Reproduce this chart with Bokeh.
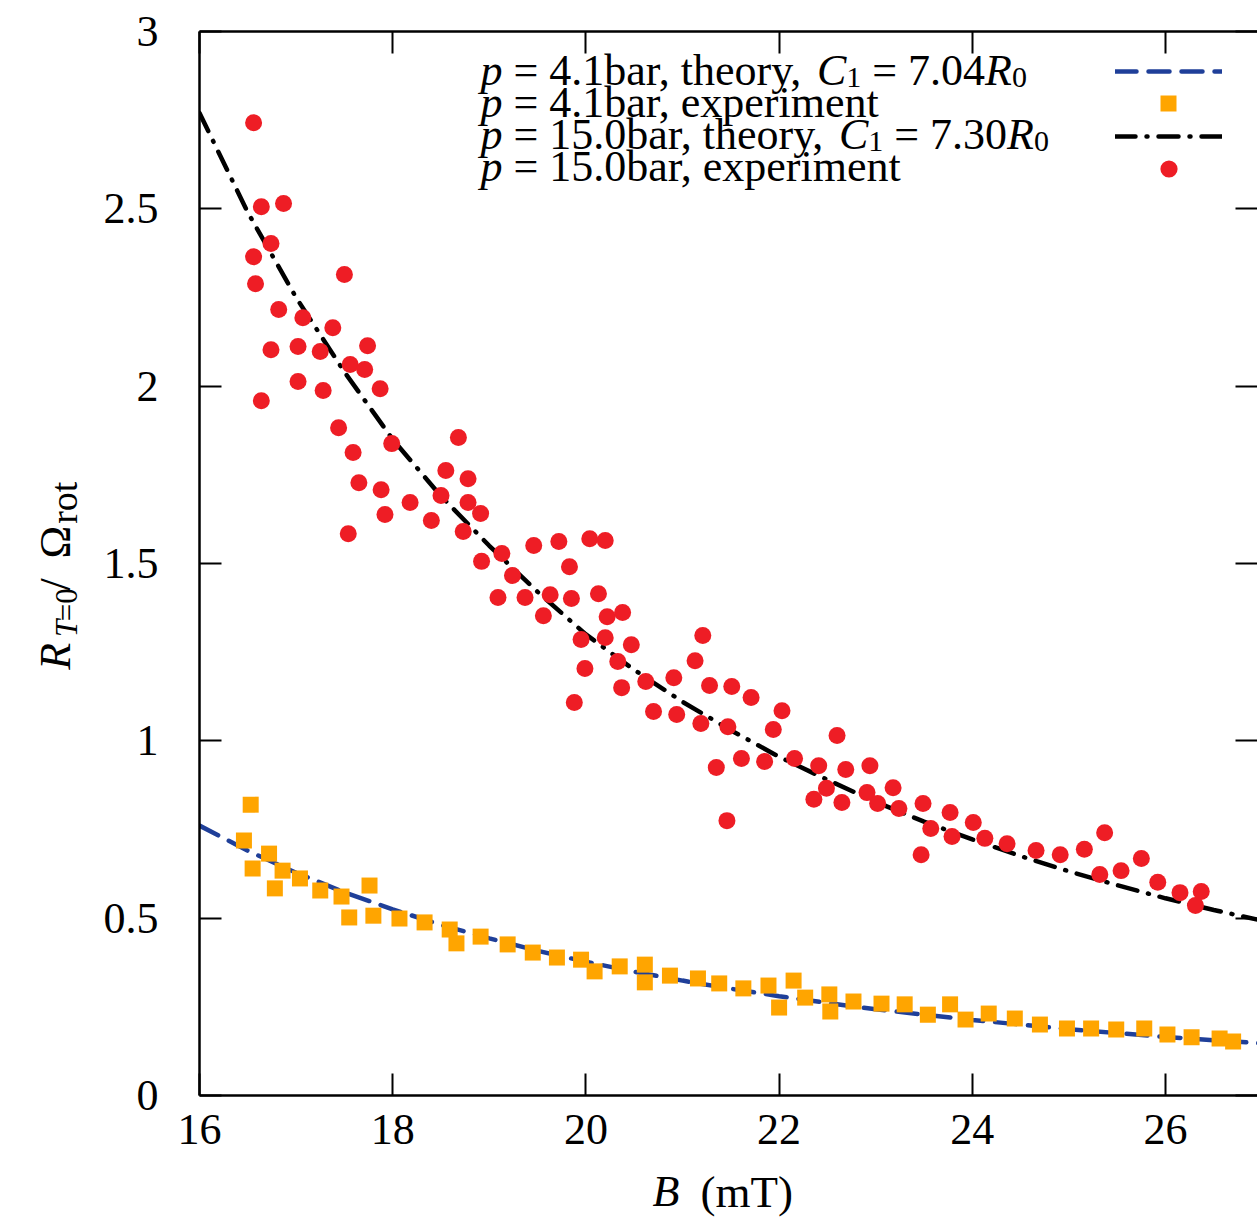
import math
from bokeh.plotting import figure
from bokeh.layouts import row, column
from bokeh.models import LinearAxis, FixedTicker, Label, Legend, LegendItem, Range1d
from bokeh.core.properties import value
from bokeh.embed import file_html
from bokeh.resources import INLINE

# ---------------- data ----------------
# p = 4.1 bar, experiment
b_exp_41 = [16.46, 16.53, 16.55, 16.72, 16.78, 16.86, 17.04, 17.25, 17.47, 17.55, 17.76, 17.80,
            18.07, 18.33, 18.59, 18.66, 18.91, 19.19, 19.45, 19.70, 19.95, 20.09, 20.35, 20.61,
            20.61, 20.87, 21.16, 21.38, 21.63, 21.89, 22.00, 22.15, 22.27, 22.52, 22.53, 22.77,
            23.06, 23.30, 23.54, 23.77, 23.93, 24.17, 24.44, 24.70, 24.98, 25.23, 25.49, 25.78,
            26.02, 26.27, 26.56, 26.70]
r_exp_41 = [0.719, 0.820, 0.640, 0.682, 0.584, 0.634, 0.612, 0.578, 0.561, 0.502, 0.592, 0.507,
            0.499, 0.488, 0.468, 0.429, 0.448, 0.426, 0.403, 0.389, 0.383, 0.350, 0.364, 0.369,
            0.319, 0.338, 0.330, 0.316, 0.302, 0.310, 0.248, 0.324, 0.276, 0.285, 0.237, 0.265,
            0.259, 0.257, 0.228, 0.257, 0.214, 0.231, 0.217, 0.200, 0.189, 0.189, 0.186, 0.189,
            0.172, 0.164, 0.161, 0.152]

# p = 15.0 bar, experiment
b_exp_150 = [16.56, 16.56, 16.64, 16.74, 16.87, 16.58, 16.82, 16.74, 16.64, 17.02, 17.02, 17.07,
             17.25, 17.28, 17.38, 17.50, 17.56, 17.44, 17.59, 17.65, 17.54, 17.71, 17.74, 17.87,
             17.99, 17.88, 17.92, 18.18, 18.40, 18.50, 18.55, 18.68, 18.78, 18.78, 18.73, 18.91,
             18.92, 19.13, 19.09, 19.24, 19.37, 19.46, 19.56, 19.63, 19.72, 19.83, 19.85, 19.88,
             19.95, 19.99, 20.04, 20.20, 20.13, 20.20, 20.22, 20.33, 20.38, 20.37, 20.47, 20.62,
             20.70, 20.91, 20.94, 21.13, 21.21, 21.28, 21.19, 21.47, 21.51, 21.71, 21.35, 21.46,
             21.61, 21.85, 21.94, 22.03, 22.16, 22.36, 22.41, 22.49, 22.60, 22.65, 22.69, 22.91,
             22.94, 23.02, 23.18, 23.24, 23.49, 23.47, 23.57, 23.77, 23.79, 24.01, 24.13, 24.36,
             24.66, 24.91, 25.16, 25.37, 25.32, 25.54, 25.75, 25.92, 26.15, 26.31, 26.37]
r_exp_150 = [2.743, 2.365, 2.506, 2.402, 2.515, 2.289, 2.216, 2.103, 1.959, 2.112, 2.013, 2.193,
             2.098, 1.988, 2.165, 2.315, 2.061, 1.883, 1.813, 1.728, 1.584, 2.047, 2.114, 1.993,
             1.838, 1.708, 1.638, 1.672, 1.621, 1.692, 1.762, 1.855, 1.739, 1.672, 1.590, 1.641,
             1.506, 1.528, 1.404, 1.466, 1.404, 1.551, 1.353, 1.412, 1.562, 1.491, 1.401, 1.108,
             1.286, 1.204, 1.570, 1.565, 1.415, 1.291, 1.350, 1.224, 1.362, 1.150, 1.271, 1.167,
             1.083, 1.178, 1.074, 1.226, 1.297, 1.156, 1.049, 1.040, 1.153, 1.122, 0.925, 0.775,
             0.950, 0.942, 1.032, 1.085, 0.950, 0.835, 0.930, 0.866, 1.015, 0.826, 0.919, 0.854,
             0.930, 0.823, 0.868, 0.809, 0.823, 0.679, 0.753, 0.798, 0.730, 0.770, 0.725, 0.710,
             0.691, 0.679, 0.694, 0.741, 0.623, 0.634, 0.668, 0.601, 0.572, 0.536, 0.575]

# theory curves
b_theory = [16.0, 16.5, 17.0, 17.5, 18.0, 18.5, 19.0, 19.5, 20.0, 20.5, 21.0, 21.5,
            22.0, 22.5, 23.0, 23.5, 24.0, 24.5, 25.0, 25.5, 26.0, 26.5, 27.0]
r_theory_41 = [0.761, 0.690, 0.628, 0.573, 0.525, 0.481, 0.443, 0.408, 0.377, 0.349, 0.324, 0.301,
               0.280, 0.261, 0.243, 0.228, 0.213, 0.200, 0.187, 0.176, 0.165, 0.156, 0.147]
r_theory_150 = [2.770, 2.490, 2.250, 2.040, 1.850, 1.690, 1.550, 1.420, 1.300, 1.200, 1.110, 1.030,
                0.955, 0.890, 0.828, 0.772, 0.722, 0.675, 0.632, 0.593, 0.556, 0.523, 0.493]

x_ticks = [16, 18, 20, 22, 24, 26]
y_ticks = [0, 0.5, 1, 1.5, 2, 2.5, 3]
y_tick_labels = ["0", "0.5", "1", "1.5", "2", "2.5", "3"]

legend_texts = [
    [("p", "italic", "m"), (" = 4.1bar, theory, ", "normal", "m"), ("C", "italic", "m"),
     ("1", "normal", "s"), (" = 7.04", "normal", "m"), ("R", "italic", "m"), ("0", "normal", "s")],
    [("p", "italic", "m"), (" = 4.1bar, experiment", "normal", "m")],
    [("p", "italic", "m"), (" = 15.0bar, theory, ", "normal", "m"), ("C", "italic", "m"),
     ("1", "normal", "s"), (" = 7.30", "normal", "m"), ("R", "italic", "m"), ("0", "normal", "s")],
    [("p", "italic", "m"), (" = 15.0bar, experiment", "normal", "m")],
]

# ---------------- styles / layout ----------------
SERIF = "Liberation Serif"
BLUE = "#1f3f99"
ORANGE = "#ffa500"
RED = "#ee1d25"
NBSP = "\u00a0"

PAGE_W, PAGE_H = 1257, 1217
YLAB_W = 100                 # strip holding the y-axis title
MAIN_H = 1167                # main figure height; x-axis title strip below
XLAB_H = PAGE_H - MAIN_H
FRAME_L, FRAME_T, FRAME_B, FRAME_R = 199, 31, 1095, 1257   # page px
X0, PX_PER_X = 16.0, 96.6
PX_PER_Y = (FRAME_B - FRAME_T) / 3.0
x_end = X0 + (FRAME_R - FRAME_L) / PX_PER_X


def dx(px):
    return X0 + (px - FRAME_L) / PX_PER_X


def dy(py):
    return (FRAME_B - py) / PX_PER_Y


p = figure(width=PAGE_W - YLAB_W, height=MAIN_H, x_range=Range1d(X0, x_end),
           y_range=Range1d(0, 3), output_backend="svg", toolbar_location=None,
           title=None,
           min_border_left=FRAME_L - YLAB_W, min_border_right=0,
           min_border_top=FRAME_T, min_border_bottom=MAIN_H - FRAME_B)
p.outline_line_color = None
p.xgrid.visible = False
p.ygrid.visible = False
p.background_fill_color = "white"
p.border_fill_color = "white"


def style_axis(ax, ticks, show_labels, line=True):
    ax.ticker = FixedTicker(ticks=ticks)
    ax.major_tick_in = 22
    ax.major_tick_out = 0
    ax.major_tick_line_width = 2
    ax.major_tick_line_color = "black"
    ax.minor_tick_line_color = None
    ax.axis_line_width = 2.5 if line else 0
    ax.axis_line_color = "black" if line else None
    ax.axis_label = None
    if show_labels:
        ax.major_label_text_font = SERIF
        ax.major_label_text_font_size = "44px"
        ax.major_label_text_color = "black"
    else:
        # tick-only axis (top / right frame edges): no tick labels at all
        ax.major_label_text_font_size = "0px"
        ax.major_label_text_color = None
        ax.major_label_standoff = 0


style_axis(p.xaxis[0], x_ticks, True)
p.xaxis[0].major_label_standoff = 19
style_axis(p.yaxis[0], y_ticks, True)
p.yaxis[0].major_label_standoff = 41
p.yaxis[0].major_label_overrides = {t: s for t, s in zip(y_ticks, y_tick_labels)}

top_ax = LinearAxis()
style_axis(top_ax, x_ticks, False)
p.add_layout(top_ax, "above")
right_ax = LinearAxis()
style_axis(right_ax, y_ticks, False, line=False)
p.add_layout(right_ax, "right")

# ---------------- glyphs ----------------
r_th41 = p.line(b_theory, r_theory_41, line_color=BLUE, line_width=4.5,
                line_dash="21 12", line_cap="round")
r_ex41 = p.scatter(b_exp_41, r_exp_41, marker="square", size=16,
                   fill_color=ORANGE, line_color=None)
r_th150 = p.line(b_theory, r_theory_150, line_color="black", line_width=4.5,
                 line_dash="20 11 1 11", line_cap="round")
r_ex150 = p.scatter(b_exp_150, r_exp_150, marker="circle", size=17,
                    fill_color=RED, line_color=None)

# ---------------- legend (symbols only; texts are drawn as labels) ----------------
sym_cx = 1168
sym_cy = [71, 103, 136, 168]
sym_specs = [(r_th41, 107, 20), (r_ex41, 40, 40), (r_th150, 107, 20), (r_ex150, 43, 43)]
for (rend, gw, gh), cy in zip(sym_specs, sym_cy):
    leg = Legend(items=[LegendItem(label=" ", renderers=[rend])],
                 location=(sym_cx - gw / 2 - FRAME_L, FRAME_B - (cy + gh / 2)),
                 glyph_width=gw, glyph_height=gh, label_width=0, label_height=gh,
                 label_standoff=0, padding=0, margin=0, spacing=0,
                 label_text_font_size="1px", label_text_color=None,
                 border_line_color=None, background_fill_alpha=0)
    p.add_layout(leg)

# ---------------- text helpers ----------------
REG = {' ': 250, NBSP: 250, '=': 564, '.': 250, ',': 250, 'a': 444, 'b': 500, 'e': 444,
       'h': 500, 'i': 278, 'm': 778, 'n': 500, 'o': 500, 'p': 500, 'r': 333, 't': 278,
       'x': 500, 'y': 500, '(': 333, ')': 333, '/': 278, 'T': 611}
ITA = {'p': 500, 'C': 667, 'R': 611, 'B': 611, 'T': 556}


def tw(text, style, size):
    tbl = ITA if style == "italic" else REG
    return sum(tbl.get(c, 500) for c in text) * size / 1000.0


def add_label(text, px, py, size, style="normal"):
    p.add_layout(Label(x=dx(px), y=dy(py), text=text.replace(" ", NBSP), text_font=SERIF,
                       text_font_size=f"{size}px", text_font_style=style,
                       text_color="black", text_align="left",
                       text_baseline="alphabetic"))


# legend texts (baselines compensated for label placement)
LF, LS, SUB_DROP = 44, 30, 7
leg_x0 = 480
leg_base = [70, 102, 134, 166]
for segs, base in zip(legend_texts, leg_base):
    cx = leg_x0
    for text, style, kind in segs:
        size = LF if kind == "m" else LS
        py = base if kind == "m" else base + SUB_DROP
        add_label(text, cx, py, size, style)
        cx += tw(text, style, size)


def strip_fig(w, h):
    f = figure(width=w, height=h, x_range=Range1d(0, w), y_range=Range1d(0, h),
               output_backend="svg", toolbar_location=None, title=None,
               x_axis_location=None, y_axis_location=None,
               min_border_left=0, min_border_right=0, min_border_top=0, min_border_bottom=0)
    f.outline_line_color = None
    f.xgrid.visible = False
    f.ygrid.visible = False
    f.background_fill_color = "white"
    f.border_fill_color = "white"
    return f


def strip_text(f, text, x, y, size, style, angle=0.0):
    f.text(x=[x], y=[y], text=[text.replace(" ", NBSP)], angle=angle,
           text_font=value(SERIF), text_font_size=value(f"{size}px"),
           text_font_style=style, text_color="black",
           text_align="left", text_baseline="alphabetic")


# y-axis title strip: R_{T=0} / Omega_rot, rotated (positions compensated)
fy = strip_fig(YLAB_W, MAIN_H)
ang = math.pi / 2
strip_text(fy, "R", 55, MAIN_H - 700, 44, "italic", ang)
strip_text(fy, "T", 66, MAIN_H - 664, 31, "italic", ang)
strip_text(fy, "=0", 66, MAIN_H - (664 - tw("T", "italic", 31)), 31, "normal", ang)
strip_text(fy, "/", 55, MAIN_H - 613, 44, "normal", ang)
strip_text(fy, "Ω", 55, MAIN_H - 578, 44, "normal", ang)
strip_text(fy, "rot", 63, MAIN_H - 540, 38, "normal", ang)

# x-axis title strip: B (mT)
fx = strip_fig(PAGE_W, XLAB_H)
strip_text(fx, "B", 652, XLAB_H - (1191 - MAIN_H), 44, "italic")
strip_text(fx, "(mT)", 700, XLAB_H - (1191 - MAIN_H), 45, "normal")

layout = column(row(fy, p, spacing=0), fx, spacing=0)
open("out.html", "w").write(file_html(layout, INLINE))
